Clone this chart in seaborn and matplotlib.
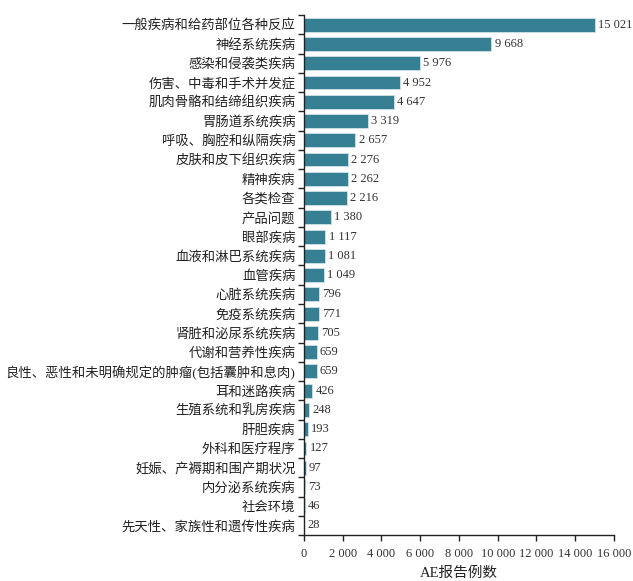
import numpy as np
import pandas as pd
import matplotlib
matplotlib.use("Agg")
import matplotlib.pyplot as plt
import seaborn as sns
from matplotlib.ticker import MultipleLocator, FuncFormatter

# -----------------------------
# Data
# -----------------------------
categories = [
    "一般疾病和给药部位各种反应", "神经系统疾病", "感染和侵袭类疾病",
    "伤害、中毒和手术并发症", "肌肉骨骼和结缔组织疾病", "胃肠道系统疾病",
    "呼吸、胸腔和纵隔疾病", "皮肤和皮下组织疾病", "精神疾病", "各类检查",
    "产品问题", "眼部疾病", "血液和淋巴系统疾病", "血管疾病", "心脏系统疾病",
    "免疫系统疾病", "肾脏和泌尿系统疾病", "代谢和营养性疾病",
    "良性、恶性和未明确规定的肿瘤(包括囊肿和息肉)", "耳和迷路疾病",
    "生殖系统和乳房疾病", "肝胆疾病", "外科和医疗程序",
    "妊娠、产褥期和围产期状况", "内分泌系统疾病", "社会环境",
    "先天性、家族性和遗传性疾病",
]
counts = [15021, 9668, 5976, 4952, 4647, 3319, 2657, 2276, 2262, 2216,
          1380, 1117, 1081, 1049, 796, 771, 705, 659, 659, 426,
          248, 193, 127, 97, 73, 46, 28]

df = pd.DataFrame({"category": categories, "count": counts})

def fmt(v):
    return f"{int(v):,}".replace(",", " ")

# -----------------------------
# Plot
# -----------------------------
sns.set_style("ticks")
plt.rcParams["font.family"] = ["Liberation Serif", "Noto Sans CJK SC", "DejaVu Sans"]

fig = plt.figure(figsize=(6.33, 5.81), dpi=100)
ax = fig.add_axes([0.480, 0.079, 0.490, 0.895])

sns.barplot(data=df, y="category", x="count", color="#377f92",
            saturation=1, width=0.72, edgecolor="#cfe3e8", linewidth=0.6,
            orient="h", ax=ax)

for i, v in enumerate(counts):
    ax.text(v + 170, i, fmt(v), va="center", ha="left", fontsize=9, color="#333333")

ax.set_xlim(0, 16000)
ax.set_ylim(len(categories) - 0.5, -0.5)
ax.xaxis.set_major_locator(MultipleLocator(2000))
ax.xaxis.set_major_formatter(FuncFormatter(lambda v, p: fmt(v)))

# ticks at category boundaries, labels at centres
ax.set_yticks(np.arange(len(categories)))
ax.set_yticklabels(categories)
ax.set_yticks(np.arange(len(categories) + 1) - 0.5, minor=True)
ax.tick_params(axis="y", which="major", length=0, pad=6, labelsize=9.6, labelcolor="#222222")
ax.tick_params(axis="y", which="minor", length=4, width=1, color="#222222")
ax.tick_params(axis="x", which="major", length=4, width=1, labelsize=9,
               labelcolor="#333333", color="#222222", pad=5)

ax.set_xlabel("AE报告例数", fontsize=10.5, color="#222222", labelpad=5)
ax.set_ylabel("")
sns.despine(ax=ax)
for s in ["left", "bottom"]:
    ax.spines[s].set_color("#222222")
    ax.spines[s].set_linewidth(1)

fig.savefig("out.png", dpi=100)
